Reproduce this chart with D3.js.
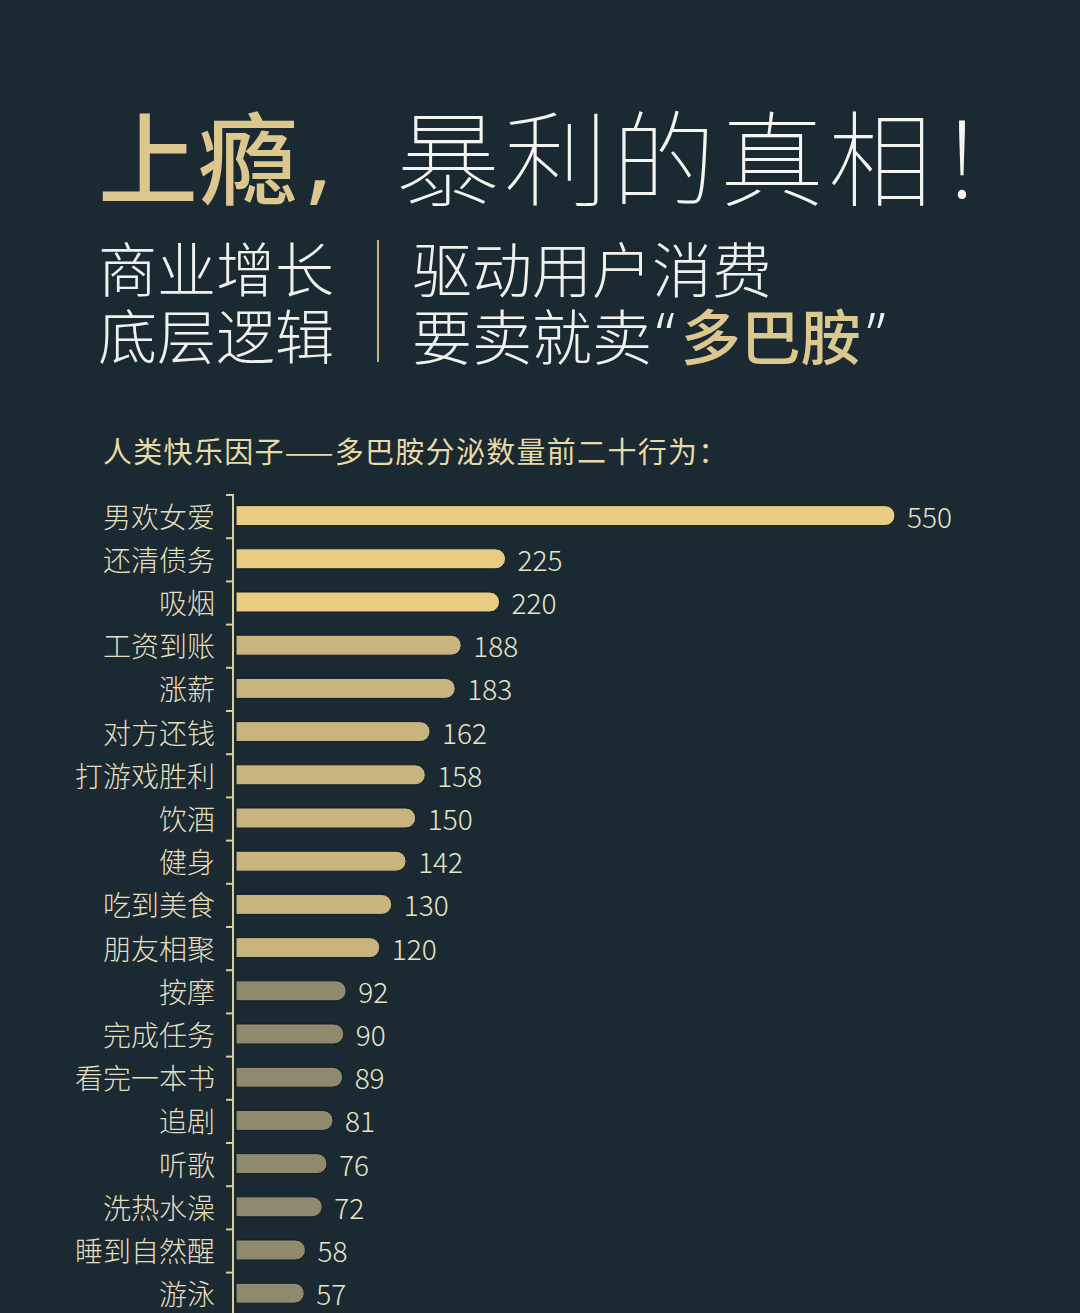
<!DOCTYPE html>
<html>
<head>
<meta charset="utf-8">
<script src="https://cdn.jsdelivr.net/npm/d3@7"></script>
<style>
  html, body { margin: 0; padding: 0; background: #1a2932; }
  svg { display: block; font-family: "Noto Sans CJK SC", "Noto Sans", sans-serif; }
</style>
</head>
<body>
<svg id="chart" width="1080" height="1313"></svg>
<script>
const behaviours = ["男欢女爱", "还清债务", "吸烟", "工资到账", "涨薪", "对方还钱", "打游戏胜利",
    "饮酒", "健身", "吃到美食", "朋友相聚", "按摩", "完成任务", "看完一本书", "追剧",
    "听歌", "洗热水澡", "睡到自然醒", "游泳"];
const dopamine = [550, 225, 220, 188, 183, 162, 158, 150, 142, 130, 120, 92, 90, 89, 81, 76, 72, 58, 57];

const chartTitle = "人类快乐因子——多巴胺分泌数量前二十行为：";

const svg = d3.select("#chart");
svg.append("rect").attr("width", 1080).attr("height", 1313).attr("fill", "#1a2932");

// headline
const head = svg.append("text")
    .attr("x", 98)
    .attr("y", 153)
    .attr("dominant-baseline", "central")
    .style("font-size", "100px");
head.append("tspan").attr("fill", "#dcc88e").style("font-weight", 500).text("上瘾");
head.append("tspan").attr("fill", "#dcc88e").style("font-weight", 400).style("font-family", "Noto Sans")
    .attr("dx", 8).text(",");
head.append("tspan").attr("fill", "#f4f4f0").style("font-weight", 100)
    .attr("x", 396).style("font-size", "104px").style("letter-spacing", "4px").text("暴利的真相！");

// sub headline, two columns split by a thin gold rule
const leftLines = ["商业增长", "底层逻辑"];
svg.append("g").selectAll("text")
    .data(leftLines)
    .join("text")
    .attr("x", 98)
    .attr("y", (d, i) => 266 + i * 67)
    .attr("dominant-baseline", "central")
    .attr("fill", "#f0f0ec")
    .style("font-size", "59px")
    .style("font-weight", 200)
    .text(d => d);

svg.append("line")
    .attr("x1", 378).attr("x2", 378)
    .attr("y1", 240).attr("y2", 362)
    .attr("stroke", "#c8b27a")
    .attr("stroke-width", 2);

svg.append("text")
    .attr("x", 412).attr("y", 266)
    .attr("dominant-baseline", "central")
    .attr("fill", "#f0f0ec")
    .style("font-size", "60px")
    .style("font-weight", 200)
    .text("驱动用户消费");

const line2 = svg.append("text")
    .attr("x", 412).attr("y", 333)
    .attr("dominant-baseline", "central")
    .style("font-size", "60px");
line2.append("tspan").attr("fill", "#f0f0ec").style("font-weight", 200).text("要卖就卖");
line2.append("tspan").attr("fill", "#f0f0ec").style("font-weight", 300).style("font-family", "Noto Sans")
    .attr("dx", 4).text("“");
line2.append("tspan").attr("fill", "#dcc88e").style("font-weight", 500).attr("dx", 6).text("多巴胺");
line2.append("tspan").attr("fill", "#f0f0ec").style("font-weight", 300).style("font-family", "Noto Sans")
    .attr("dx", 6).text("”");

svg.append("text")
    .attr("x", 103).attr("y", 450)
    .attr("dominant-baseline", "central")
    .attr("fill", "#e8daa6")
    .style("font-size", "29px")
    .style("letter-spacing", "1.3px")
    .text(chartTitle);

// bar chart
const x0 = 236;
const x = d3.scaleLinear().domain([0, 550]).range([x0, 895]);
const y = d3.scaleBand().domain(behaviours).range([494, 494 + behaviours.length * 43.2]).paddingInner(0);

// three colour tiers, brighter for the bigger rewards
const colour = d3.scaleThreshold().domain([100, 200]).range(["#8f8a6e", "#c8b47e", "#e8cc82"]);

const rows = behaviours.map((name, i) => ({ name, value: dopamine[i] }));
const barH = 20;

const bars = svg.append("g").selectAll("g")
    .data(rows)
    .join("g")
    .attr("transform", d => `translate(0, ${y(d.name) + y.bandwidth() / 2})`);

// bar with square left end and round right end
bars.append("path")
    .attr("fill", d => colour(d.value))
    .attr("stroke", "#121c22")
    .attr("stroke-width", 1)
    .attr("d", d => {
        const w = x(d.value) - x0, r = barH / 2;
        return `M${x0},${-r}H${x0 + w - r}A${r},${r} 0 0 1 ${x0 + w - r},${r}H${x0}Z`;
    });

bars.append("text")
    .attr("x", d => x(d.value) + 12)
    .attr("dominant-baseline", "central")
    .attr("fill", "#e8e4c8")
    .style("font-size", "28px")
    .style("font-weight", 300)
    .text(d => d.value);

bars.append("text")
    .attr("x", 215)
    .attr("text-anchor", "end")
    .attr("dominant-baseline", "central")
    .attr("fill", "#e6dfbf")
    .style("font-size", "28px")
    .style("font-weight", 300)
    .text(d => d.name);

// axis: vertical rule with ticks on band boundaries
const axis = svg.append("g").attr("stroke", "#d8cc98").attr("stroke-width", 2);
axis.append("line")
    .attr("x1", 233).attr("x2", 233)
    .attr("y1", y.range()[0]).attr("y2", 1313);
axis.selectAll(".tick")
    .data(behaviours)
    .join("line")
    .attr("class", "tick")
    .attr("x1", 226).attr("x2", 233)
    .attr("y1", d => y(d) + 1).attr("y2", d => y(d) + 1);
</script>
</body>
</html>
